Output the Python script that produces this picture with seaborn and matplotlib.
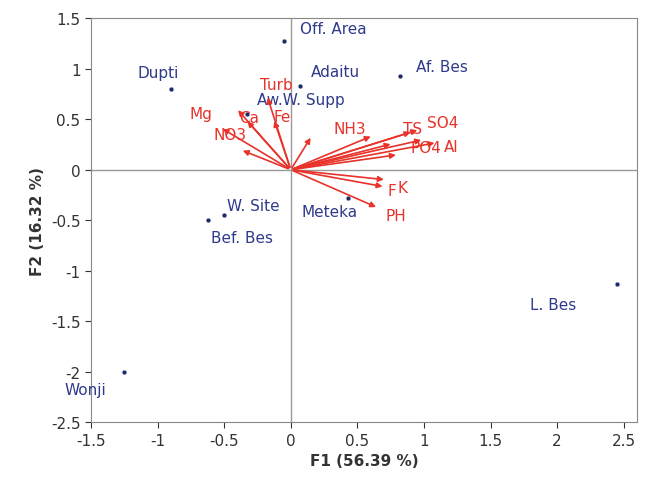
import matplotlib
matplotlib.use("Agg")
import matplotlib.pyplot as plt
import seaborn as sns
import pandas as pd

obs_names = ["Off. Area", "Adaitu", "Af. Bes", "Dupti", "Aw.W. Supp", "W. Site", "Bef. Bes", "Meteka", "L. Bes", "Wonji"]
obs_x = [-0.05, 0.07, 0.82, -0.90, -0.33, -0.50, -0.62, 0.43, 2.45, -1.25]
obs_y = [1.27, 0.83, 0.93, 0.80, 0.55, -0.45, -0.50, -0.28, -1.13, -2.00]

var_names = ["Turb", "Fe", "Ca", "Mg", "NO3", "", "", "NH3", "", "", "TS", "SO4", "PO4", "Al", "K", "F", "PH"]
var_x = [-0.18, -0.13, -0.34, -0.41, -0.53, -0.38, 0.16, 0.62, 0.77, 0.81, 0.92, 0.97, 1.00, 1.10, 0.72, 0.71, 0.66]
var_y = [0.74, 0.51, 0.50, 0.61, 0.42, 0.20, 0.34, 0.34, 0.26, 0.15, 0.38, 0.40, 0.30, 0.27, -0.10, -0.17, -0.38]

obs = pd.DataFrame({"x": obs_x, "y": obs_y, "name": obs_names})

sns.set_style("white")
fig, ax = plt.subplots(figsize=(6.5, 4.81), dpi=100)
ax.axhline(0, color="#999999", lw=1)
ax.axvline(0, color="#999999", lw=1)
sns.scatterplot(data=obs, x="x", y="y", color="#1f2a6b", s=12, ax=ax, zorder=3)

label_off = {"Off. Area": (0.12, 0.08), "Adaitu": (0.08, 0.10), "Af. Bes": (0.12, 0.05),
             "Dupti": (-0.25, 0.12), "Aw.W. Supp": (0.08, 0.10), "W. Site": (0.02, 0.05),
             "Bef. Bes": (0.02, -0.22), "Meteka": (-0.35, -0.18), "L. Bes": (-0.65, -0.25),
             "Wonji": (-0.45, -0.22)}
for n, x, y in zip(obs_names, obs_x, obs_y):
    dx, dy = label_off[n]
    ax.text(x + dx, y + dy, n, color="#2e3a8c", fontsize=11)

lab_off = {"Turb": (-0.05, 0.06), "Fe": (0.0, -0.03), "Ca": (-0.05, -0.03), "Mg": (-0.35, -0.1),
           "NO3": (-0.05, -0.12), "NH3": (-0.3, 0.02), "TS": (-0.08, -0.02), "SO4": (0.05, 0.02),
           "PO4": (-0.1, -0.12), "Al": (0.05, -0.08), "K": (0.08, -0.12), "F": (0.02, -0.08),
           "PH": (0.05, -0.12)}
for n, x, y in zip(var_names, var_x, var_y):
    ax.annotate("", xy=(x, y), xytext=(0, 0),
                arrowprops=dict(arrowstyle="-|>", color="#e8322a", lw=1.2, mutation_scale=8))
    if n:
        dx, dy = lab_off[n]
        ax.text(x + dx, y + dy, n, color="#e8322a", fontsize=11, ha="left")

ax.set_xlim(-1.5, 2.6)
ax.set_ylim(-2.5, 1.5)
ax.set_xticks([-1.5, -1, -0.5, 0, 0.5, 1, 1.5, 2, 2.5])
ax.set_xticklabels(["-1.5", "-1", "-0.5", "0", "0.5", "1", "1.5", "2", "2.5"])
ax.set_yticks([-2.5, -2, -1.5, -1, -0.5, 0, 0.5, 1, 1.5])
ax.set_yticklabels(["-2.5", "-2", "-1.5", "-1", "-0.5", "0", "0.5", "1", "1.5"])
ax.tick_params(labelsize=11, colors="#333333", direction="out", length=4, bottom=True, left=True)
ax.set_xlabel("F1 (56.39 %)", fontsize=11, fontweight="bold", color="#333333")
ax.set_ylabel("F2 (16.32 %)", fontsize=11, fontweight="bold", color="#333333")
for s in ax.spines.values():
    s.set_color("#888888")
fig.subplots_adjust(left=0.14, right=0.98, top=0.96, bottom=0.12)
fig.savefig("out.png")
